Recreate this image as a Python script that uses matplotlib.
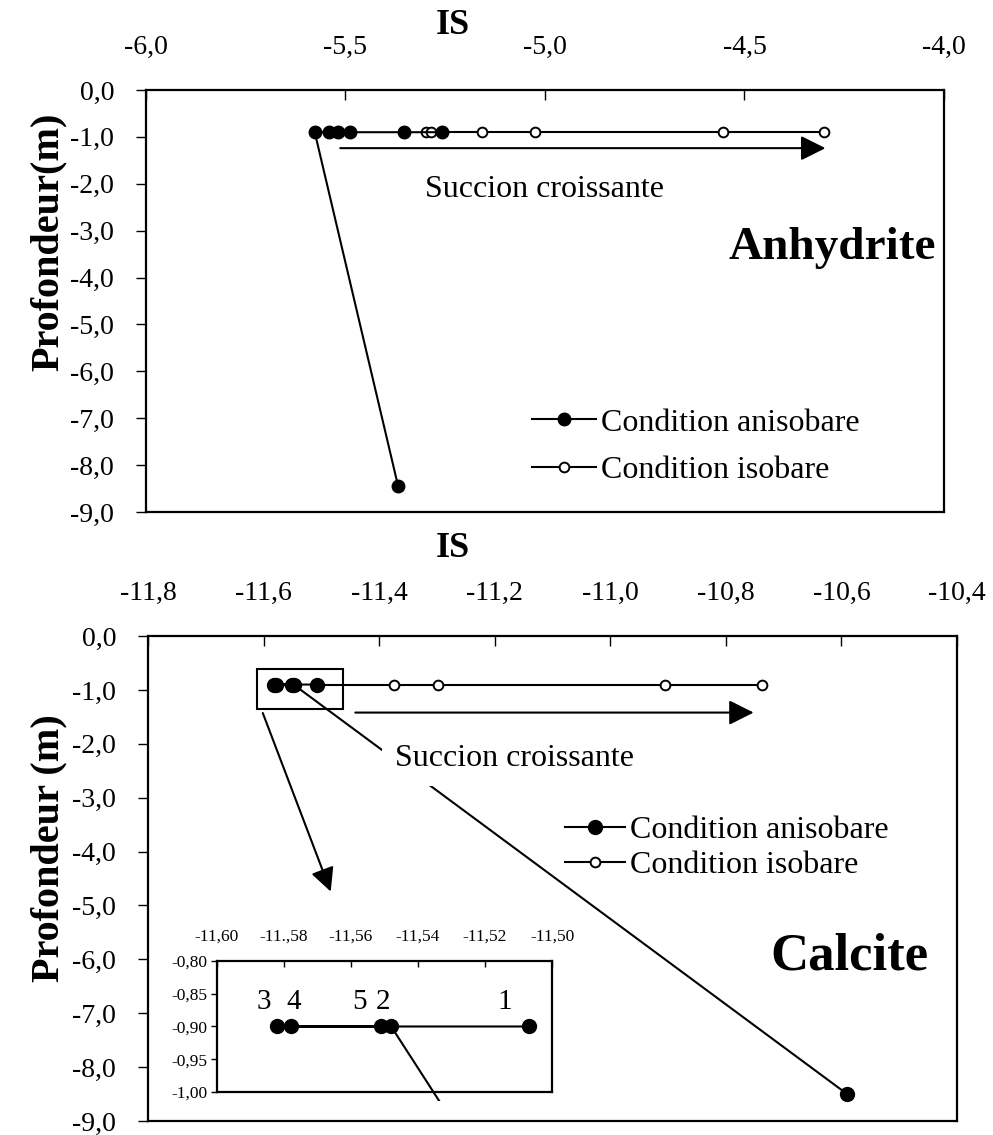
import matplotlib
matplotlib.use("Agg")
import matplotlib.pyplot as plt
from matplotlib.patches import Rectangle

plt.rcParams['font.family'] = ['Liberation Serif', 'DejaVu Serif']

# ---- Anhydrite (graphique du haut) ----
anh_xticks = [-6.0, -5.5, -5.0, -4.5, -4.0]
anh_xlabels = ["-6,0", "-5,5", "-5,0", "-4,5", "-4,0"]
prof_ticks = [0, -1, -2, -3, -4, -5, -6, -7, -8, -9]
prof_labels = ["0,0", "-1,0", "-2,0", "-3,0", "-4,0", "-5,0", "-6,0", "-7,0", "-8,0", "-9,0"]

anh_aniso_is = [-5.259, -5.354, -5.488, -5.518, -5.542, -5.577, -5.368]
anh_aniso_prof = [-0.9, -0.9, -0.9, -0.9, -0.9, -0.9, -8.45]
anh_iso_is = [-5.259, -5.298, -5.285, -5.159, -5.024, -4.554, -4.301]
anh_iso_prof = [-0.9, -0.9, -0.9, -0.9, -0.9, -0.9, -0.9]

# ---- Calcite (graphique du bas) ----
cal_xticks = [-11.8, -11.6, -11.4, -11.2, -11.0, -10.8, -10.6, -10.4]
cal_xlabels = ["-11,8", "-11,6", "-11,4", "-11,2", "-11,0", "-10,8", "-10,6", "-10,4"]

# ordre des points : 1, 3, 4, 5, 2 puis le point profond
cal_aniso_is = [-11.507, -11.582, -11.578, -11.551, -11.548, -10.59]
cal_aniso_prof = [-0.9, -0.9, -0.9, -0.9, -0.9, -8.5]
cal_iso_is = [-11.507, -11.374, -11.298, -10.905, -10.738]
cal_iso_prof = [-0.9, -0.9, -0.9, -0.9, -0.9]

# zoom
zoom_xticks = [-11.60, -11.58, -11.56, -11.54, -11.52, -11.50]
zoom_xlabels = ["-11,60", "-11.,58", "-11,56", "-11,54", "-11,52", "-11,50"]
zoom_yticks = [-0.80, -0.85, -0.90, -0.95, -1.00]
zoom_ylabels = ["-0,80", "-0,85", "-0,90", "-0,95", "-1,00"]
num_labels = ["3", "4", "5", "2", "1"]
num_is = [-11.5861, -11.5770, -11.5576, -11.5504, -11.5142]
num_prof = [-0.862, -0.862, -0.862, -0.862, -0.862]

fig = plt.figure(figsize=(9.93, 11.35), dpi=100)


def style_axes(ax, xt, xl, fs=20, xpad=22, ypad=16):
    ax.xaxis.tick_top()
    ax.set_xticks(xt)
    ax.set_xticklabels(xl, fontsize=fs)
    ax.set_yticks(prof_ticks)
    ax.set_yticklabels(prof_labels, fontsize=fs)
    ax.set_ylim(-9, 0)
    ax.tick_params(axis='x', direction='in', length=7, width=1, pad=xpad, top=True, bottom=False)
    ax.tick_params(axis='y', direction='out', length=7, width=1, pad=ypad)
    for s in ax.spines.values():
        s.set_linewidth(1.6)


def draw_series(ax, ai, ap, ii, ip, ms_f, ms_o):
    ax.plot(ii, ip, color='black', lw=1.5, marker='o', mfc='white', mec='black',
            mew=1.4, ms=ms_o, zorder=3, label="Condition isobare")
    ax.plot(ai, ap, color='black', lw=1.5, marker='o', mfc='black', mec='black',
            ms=ms_f, zorder=4, label="Condition anisobare")


# ------------ haut ------------
ax1 = fig.add_axes([0.147, 0.5489, 0.8036, 0.3718])
draw_series(ax1, anh_aniso_is, anh_aniso_prof, anh_iso_is, anh_iso_prof, 9, 7)
ax1.set_xlim(-6.0, -4.0)
style_axes(ax1, anh_xticks, anh_xlabels)
ax1.text(0.385, 1.154, "IS", transform=ax1.transAxes, fontsize=26, fontweight='bold',
         ha='center', va='center')
ax1.set_ylabel("Profondeur(m)", fontsize=29, fontweight='bold')
ax1.yaxis.set_label_coords(-0.099, 0.64)
ax1.annotate("", xy=(-4.29, -1.24), xytext=(-5.52, -1.24),
             arrowprops=dict(arrowstyle='-|>', color='black', lw=1.5, mutation_scale=38))
ax1.text(-5.0, -2.13, "Succion croissante", fontsize=23, ha='center', va='center')
ax1.text(-4.28, -3.37, "Anhydrite", fontsize=34, fontweight='bold', ha='center', va='center')
h, l = ax1.get_legend_handles_labels()
ax1.legend(h[::-1], l[::-1], loc='upper left', bbox_to_anchor=(0.484, 0.246), frameon=False,
           fontsize=23, handlelength=2.0, handletextpad=0.15, labelspacing=0.56, borderpad=0,
           borderaxespad=0)

# ------------ bas ------------
ax2 = fig.add_axes([0.149, 0.0123, 0.8147, 0.4273])
draw_series(ax2, cal_aniso_is, cal_aniso_prof, cal_iso_is, cal_iso_prof, 10, 7)
ax2.set_xlim(-11.8, -10.4)
style_axes(ax2, cal_xticks, cal_xlabels)
ax2.text(0.377, 1.181, "IS", transform=ax2.transAxes, fontsize=26, fontweight='bold',
         ha='center', va='center')
ax2.set_ylabel("Profondeur (m)", fontsize=29, fontweight='bold')
ax2.yaxis.set_label_coords(-0.099, 0.563)
ax2.add_patch(Rectangle((-11.611, -1.36), 0.149, 0.75, fill=False, ec='black', lw=1.5, zorder=5))
ax2.annotate("", xy=(-11.482, -4.79), xytext=(-11.603, -1.38),
             arrowprops=dict(arrowstyle='-|>', color='black', lw=1.5, mutation_scale=36))
ax2.annotate("", xy=(-10.747, -1.42), xytext=(-11.446, -1.42),
             arrowprops=dict(arrowstyle='-|>', color='black', lw=1.5, mutation_scale=38))
ax2.text(-11.373, -2.27, "Succion croissante", fontsize=23, ha='left', va='center', zorder=6,
         bbox=dict(boxstyle='square,pad=0.4', fc='white', ec='none'))
ax2.text(-10.586, -5.95, "Calcite", fontsize=38, fontweight='bold', ha='center', va='center')
h, l = ax2.get_legend_handles_labels()
ax2.legend(h[::-1], l[::-1], loc='upper left', bbox_to_anchor=(0.515, 0.629), frameon=False,
           fontsize=23, handlelength=1.9, handletextpad=0.15, labelspacing=0.16, borderpad=0,
           borderaxespad=0)

# ------------ encart ------------
ax3 = fig.add_axes([0.2185, 0.0379, 0.3374, 0.1154])
ax3.set_facecolor('white')
ln, = ax3.plot(cal_aniso_is, cal_aniso_prof, color='black', lw=1.5, marker='o',
               mfc='black', ms=10, zorder=4)
ln.set_clip_path(Rectangle((0, -0.07), 1, 1.07, transform=ax3.transAxes))
ax3.set_xlim(-11.60, -11.50)
ax3.set_ylim(-1.00, -0.80)
ax3.xaxis.tick_top()
ax3.set_xticks(zoom_xticks)
ax3.set_xticklabels(zoom_xlabels, fontsize=12.5)
ax3.set_yticks(zoom_yticks)
ax3.set_yticklabels(zoom_ylabels, fontsize=12.5)
ax3.tick_params(axis='x', direction='in', length=4, width=1, pad=12, top=True, bottom=False)
ax3.tick_params(axis='y', direction='out', length=4, width=1, pad=3)
for s in ax3.spines.values():
    s.set_linewidth(1.6)
for t, x, y in zip(num_labels, num_is, num_prof):
    ax3.text(x, y, t, fontsize=21, ha='center', va='center')

fig.savefig("out.png", dpi=100)
